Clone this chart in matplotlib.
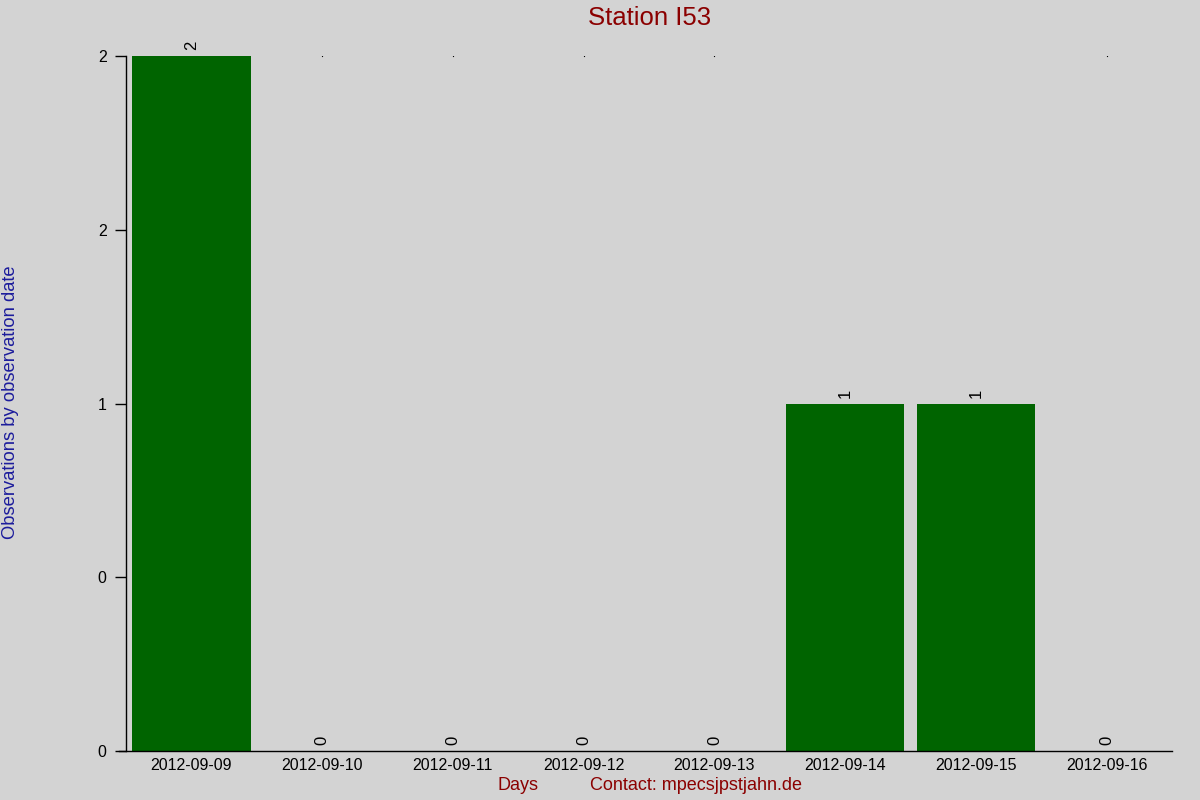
import matplotlib
matplotlib.use("Agg")
import matplotlib.pyplot as plt

dates = ["2012-09-09", "2012-09-10", "2012-09-11", "2012-09-12",
         "2012-09-13", "2012-09-14", "2012-09-15", "2012-09-16"]
counts = [2, 0, 0, 0, 0, 1, 1, 0]
ytick_vals = [0, 0.5, 1, 1.5, 2]
ytick_labels = ["0", "0", "1", "2", "2"]

plt.rcParams['font.family'] = ['Liberation Sans', 'DejaVu Sans']
BG = '#D3D3D3'
fig = plt.figure(figsize=(12, 8), dpi=100, facecolor=BG)
ax = fig.add_axes([0.105, 0.06125, 0.8717, 0.86875], facecolor=BG)

x = list(range(len(dates)))
ax.bar(x, counts, width=0.905, color='#006400')
for xi, v in zip(x, counts):
    ax.annotate(str(v), (xi, v), xytext=(0, 4), textcoords='offset points',
                rotation=90, ha='center', va='bottom', fontsize=12, color='black')
# tiny dots at top for empty days
zx = [xi for xi, v in zip(x, counts) if v == 0]
ax.plot(zx, [max(counts)] * len(zx), linestyle='none', marker='o',
        markersize=0.9, markeredgewidth=0, color='black')

ax.set_xlim(-0.5, 7.5)
ax.set_ylim(0, 2)
ax.set_xticks(x)
ax.set_xticklabels(dates, fontsize=11.5)
ax.tick_params(axis='x', length=0, pad=5)
ax.set_yticks(ytick_vals)
ax.set_yticklabels(ytick_labels, fontsize=11.5)
ax.tick_params(axis='y', length=8, width=1, pad=6)
for s in ['top', 'right']:
    ax.spines[s].set_visible(False)
ax.spines['left'].set_linewidth(1)
ax.spines['bottom'].set_linewidth(1)
ax.spines['bottom'].set_bounds(-0.55, 7.5)

fig.text(0.541, 0.9775, "Station I53", ha='center', va='center',
         fontsize=18.5, color='#8B0000')
fig.text(0.009, 0.4975, "Observations by observation date", rotation=90,
         ha='center', va='center', fontsize=13.2, color='#1C1C9C')
fig.text(0.432, 0.0175, "Days", ha='center', va='center', fontsize=13, color='#8B0000')
fig.text(0.58, 0.0175, "Contact: mpecsjpstjahn.de", ha='center', va='center',
         fontsize=13, color='#8B0000')

fig.savefig("out.png", dpi=100, facecolor=BG)
